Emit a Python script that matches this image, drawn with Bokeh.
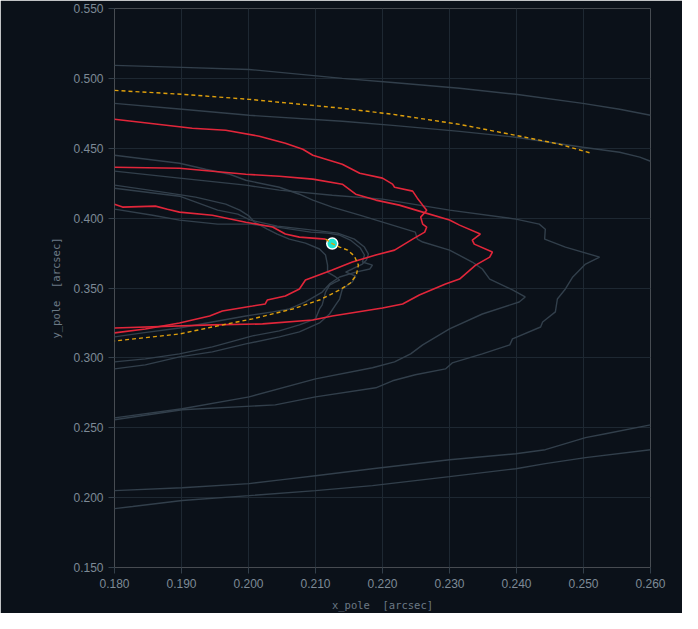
from bokeh.plotting import figure
from bokeh.models import FixedTicker, Range1d
from bokeh.embed import file_html
from bokeh.resources import INLINE

# ---------------- data (arcsec) ----------------
x_ticks = [0.18, 0.19, 0.20, 0.21, 0.22, 0.23, 0.24, 0.25, 0.26]
x_tick_labels = ["0.180", "0.190", "0.200", "0.210", "0.220", "0.230", "0.240", "0.250", "0.260"]
y_ticks = [0.15, 0.20, 0.25, 0.30, 0.35, 0.40, 0.45, 0.50, 0.55]
y_tick_labels = ["0.150", "0.200", "0.250", "0.300", "0.350", "0.400", "0.450", "0.500", "0.550"]

# historical pole paths (grey)
hist_1_x = [0.1800, 0.1901, 0.2001, 0.2140, 0.2215, 0.2315, 0.2399, 0.2499, 0.2554, 0.2600]
hist_1_y = [0.5093, 0.5079, 0.5064, 0.5000, 0.4971, 0.4929, 0.4886, 0.4821, 0.4779, 0.4736]

hist_2_x = [0.1800, 0.1901, 0.2001, 0.2140, 0.2215, 0.2315, 0.2399, 0.2499, 0.2554, 0.2584, 0.2600]
hist_2_y = [0.4821, 0.4779, 0.4736, 0.4693, 0.4664, 0.4621, 0.4579, 0.4507, 0.4471, 0.4436, 0.4407]

hist_3_x = [0.1800, 0.1897, 0.1996, 0.2046, 0.2125, 0.2200, 0.2300, 0.2399, 0.2434, 0.2443,
            0.2442, 0.2473, 0.2524, 0.2503, 0.2484, 0.2473, 0.2461, 0.2458, 0.2439, 0.2436,
            0.2394, 0.2390, 0.2349, 0.2304, 0.2294, 0.2249, 0.2215, 0.2190, 0.2100, 0.2040,
            0.1901, 0.1800]
hist_3_y = [0.4336, 0.4286, 0.4236, 0.4200, 0.4164, 0.4136, 0.4057, 0.3993, 0.3957, 0.3921,
            0.3850, 0.3793, 0.3721, 0.3671, 0.3579, 0.3493, 0.3421, 0.3329, 0.3257, 0.3221,
            0.3136, 0.3093, 0.3029, 0.2964, 0.2921, 0.2879, 0.2836, 0.2786, 0.2721, 0.2664,
            0.2629, 0.2557]

hist_4_x = [0.1800, 0.1897, 0.1936, 0.1972, 0.1996, 0.2046, 0.2076, 0.2096, 0.2125, 0.2166,
            0.2210, 0.2249, 0.2252, 0.2260, 0.2300, 0.2334, 0.2349, 0.2360, 0.2394, 0.2413,
            0.2404, 0.2349, 0.2300, 0.2260, 0.2242, 0.2218, 0.2185, 0.2100, 0.2001, 0.1901,
            0.1800]
hist_4_y = [0.4450, 0.4393, 0.4350, 0.4314, 0.4271, 0.4221, 0.4171, 0.4129, 0.4079, 0.4021,
            0.3957, 0.3900, 0.3850, 0.3829, 0.3771, 0.3686, 0.3636, 0.3564, 0.3486, 0.3436,
            0.3400, 0.3314, 0.3207, 0.3093, 0.3029, 0.2971, 0.2929, 0.2850, 0.2721, 0.2636,
            0.2571]

hist_5_x = [0.1800, 0.1872, 0.1921, 0.1966, 0.1987, 0.2001, 0.2009, 0.2028, 0.2043, 0.2061,
            0.2085, 0.2106, 0.2115, 0.2118, 0.2118, 0.2130, 0.2136, 0.2130, 0.2121, 0.2115,
            0.2110, 0.2106, 0.2100, 0.2076, 0.2046, 0.2006, 0.1946, 0.1897, 0.1846, 0.1800]
hist_5_y = [0.4236, 0.4186, 0.4150, 0.4100, 0.4057, 0.4014, 0.3971, 0.3921, 0.3886, 0.3850,
            0.3821, 0.3779, 0.3736, 0.3664, 0.3614, 0.3579, 0.3557, 0.3543, 0.3521, 0.3471,
            0.3379, 0.3350, 0.3279, 0.3236, 0.3193, 0.3157, 0.3079, 0.3029, 0.2993, 0.2971]

hist_6_x = [0.1800, 0.1857, 0.1897, 0.1954, 0.2003, 0.2043, 0.2093, 0.2118, 0.2136, 0.2152,
            0.2167, 0.2173, 0.2170, 0.2185, 0.2181, 0.2160, 0.2136, 0.2121, 0.2110, 0.2085,
            0.2061, 0.2036, 0.1996, 0.1946, 0.1897, 0.1842, 0.1800]
hist_6_y = [0.4064, 0.4021, 0.3986, 0.3957, 0.3957, 0.3936, 0.3900, 0.3893, 0.3879, 0.3843,
            0.3786, 0.3736, 0.3686, 0.3664, 0.3636, 0.3614, 0.3579, 0.3529, 0.3471, 0.3400,
            0.3350, 0.3329, 0.3300, 0.3257, 0.3214, 0.3179, 0.3150]

hist_7_x = [0.1800, 0.1897, 0.1954, 0.1984, 0.2003, 0.2043, 0.2096, 0.2133, 0.2158, 0.2173,
            0.2179, 0.2176, 0.2170, 0.2155, 0.2145, 0.2160, 0.2155, 0.2140, 0.2136, 0.2130,
            0.2121, 0.2106, 0.2076, 0.2046, 0.1996, 0.1946, 0.1897, 0.1846, 0.1800]
hist_7_y = [0.4214, 0.4157, 0.4057, 0.4029, 0.3986, 0.3943, 0.3914, 0.3893, 0.3850, 0.3793,
            0.3743, 0.3700, 0.3671, 0.3636, 0.3614, 0.3586, 0.3543, 0.3493, 0.3421, 0.3379,
            0.3314, 0.3250, 0.3186, 0.3150, 0.3100, 0.3043, 0.3007, 0.2950, 0.2921]

hist_8_x = [0.1800, 0.1901, 0.2001, 0.2051, 0.2100, 0.2185, 0.2300, 0.2399, 0.2443, 0.2503, 0.2533, 0.2600]
hist_8_y = [0.2050, 0.2071, 0.2100, 0.2129, 0.2157, 0.2207, 0.2271, 0.2314, 0.2343, 0.2429, 0.2457, 0.2521]

hist_9_x = [0.1800, 0.1827, 0.1901, 0.2001, 0.2100, 0.2185, 0.2300, 0.2399, 0.2443, 0.2503, 0.2600]
hist_9_y = [0.1921, 0.1936, 0.1979, 0.2014, 0.2050, 0.2086, 0.2150, 0.2207, 0.2243, 0.2286, 0.2343]

# recent pole path (red)
recent_1_x = [0.1800, 0.1916, 0.1966, 0.2016, 0.2055, 0.2081, 0.2096, 0.2140, 0.2166, 0.2200,
              0.2215, 0.2218, 0.2245, 0.2252, 0.2260, 0.2266, 0.2257, 0.2260, 0.2266, 0.2263,
              0.2245, 0.2218, 0.2190, 0.2155, 0.2125, 0.2085, 0.2076, 0.2055, 0.2028, 0.2025,
              0.2006, 0.1961, 0.1942, 0.1897, 0.1846, 0.1800]
recent_1_y = [0.4707, 0.4643, 0.4629, 0.4586, 0.4536, 0.4493, 0.4450, 0.4386, 0.4321, 0.4286,
              0.4243, 0.4221, 0.4193, 0.4143, 0.4093, 0.4057, 0.4007, 0.3957, 0.3936, 0.3900,
              0.3850, 0.3771, 0.3736, 0.3686, 0.3629, 0.3557, 0.3493, 0.3443, 0.3414, 0.3386,
              0.3371, 0.3336, 0.3300, 0.3250, 0.3207, 0.3179]

recent_2_x = [0.1800, 0.1897, 0.1996, 0.2046, 0.2096, 0.2140, 0.2160, 0.2190, 0.2225, 0.2260,
              0.2300, 0.2315, 0.2346, 0.2334, 0.2337, 0.2364, 0.2360, 0.2339, 0.2315, 0.2294,
              0.2255, 0.2230, 0.2200, 0.2125, 0.2096, 0.2021, 0.1946, 0.1800]
recent_2_y = [0.4364, 0.4357, 0.4314, 0.4300, 0.4279, 0.4243, 0.4171, 0.4129, 0.4093, 0.4043,
              0.3986, 0.3950, 0.3886, 0.3843, 0.3814, 0.3757, 0.3721, 0.3664, 0.3564, 0.3529,
              0.3450, 0.3386, 0.3357, 0.3300, 0.3271, 0.3243, 0.3236, 0.3214]

recent_3_x = [0.1800, 0.1812, 0.1861, 0.1879, 0.1897, 0.1946, 0.1996, 0.2036, 0.2055, 0.2076, 0.2115]
recent_3_y = [0.4100, 0.4079, 0.4086, 0.4064, 0.4043, 0.4021, 0.3971, 0.3936, 0.3886, 0.3864, 0.3850]

# predictions (orange, dashed)
pred_old_x = [0.1800, 0.1901, 0.2001, 0.2140, 0.2215, 0.2315, 0.2413, 0.2464, 0.2512]
pred_old_y = [0.4914, 0.4886, 0.4850, 0.4786, 0.4743, 0.4671, 0.4579, 0.4529, 0.4464]

pred_new_x = [0.2115, 0.2125, 0.2136, 0.2148, 0.2158, 0.2164, 0.2161, 0.2152, 0.2136, 0.2106,
              0.2066, 0.2006, 0.1946, 0.1897, 0.1800]
pred_new_y = [0.3850, 0.3818, 0.3793, 0.3771, 0.3729, 0.3664, 0.3593, 0.3536, 0.3486, 0.3414,
              0.3350, 0.3279, 0.3221, 0.3171, 0.3121]

# current pole position
current_x = [0.2125]
current_y = [0.3818]

# ---------------- styling ----------------
BG = "#0b1119"
GRID = "#1e2832"
GREY = "#323f4b"
RED = "#e2263a"
ORANGE = "#e0a00c"
CYAN = "#1de3cf"
TICK_TXT = "#7d8a96"
LABEL_TXT = "#6b7985"

p = figure(width=682, height=613,
           x_range=Range1d(0.18, 0.26), y_range=Range1d(0.15, 0.55),
           output_backend="svg", toolbar_location=None,
           min_border_left=114, min_border_right=32, min_border_top=8, min_border_bottom=46,
           background_fill_color=BG, border_fill_color=BG, outline_line_color=None)

hist = [(hist_1_x, hist_1_y), (hist_2_x, hist_2_y), (hist_3_x, hist_3_y), (hist_4_x, hist_4_y),
        (hist_5_x, hist_5_y), (hist_6_x, hist_6_y), (hist_7_x, hist_7_y), (hist_8_x, hist_8_y),
        (hist_9_x, hist_9_y)]
for hx, hy in hist:
    p.line(hx, hy, line_color=GREY, line_width=1.4)

for rx, ry in [(recent_1_x, recent_1_y), (recent_2_x, recent_2_y), (recent_3_x, recent_3_y)]:
    p.line(rx, ry, line_color=RED, line_width=1.6)

p.line(pred_old_x, pred_old_y, line_color=ORANGE, line_width=1.4, line_dash="4 3")
p.scatter(current_x, current_y, size=11, fill_color=CYAN, line_color="white", line_width=1.5)
p.line(pred_new_x, pred_new_y, line_color=ORANGE, line_width=1.4, line_dash="4 3")

# axes
p.xaxis.ticker = FixedTicker(ticks=x_ticks)
p.yaxis.ticker = FixedTicker(ticks=y_ticks)
p.xaxis.major_label_overrides = dict(zip(x_ticks, x_tick_labels))
p.yaxis.major_label_overrides = dict(zip(y_ticks, y_tick_labels))
p.xaxis.axis_label = "x_pole\u00a0\u00a0[arcsec]"
p.yaxis.axis_label = "y_pole\u00a0\u00a0[arcsec]"
for ax in (p.xaxis, p.yaxis):
    ax.axis_line_color = None
    ax.major_tick_line_color = "#34404b"
    ax.major_tick_out = 6
    ax.major_tick_in = 0
    ax.minor_tick_line_color = None
    ax.major_label_text_color = TICK_TXT
    ax.major_label_text_font_size = "12px"
    ax.major_label_standoff = 5
    ax.axis_label_text_color = LABEL_TXT
    ax.axis_label_text_font = "DejaVu Sans Mono"
    ax.axis_label_text_font_size = "10.5px"
    ax.axis_label_text_font_style = "normal"
    ax.axis_label_standoff = 8

p.grid.grid_line_color = GRID
p.grid.grid_line_width = 1

open("out.html", "w").write(file_html(p, INLINE))
